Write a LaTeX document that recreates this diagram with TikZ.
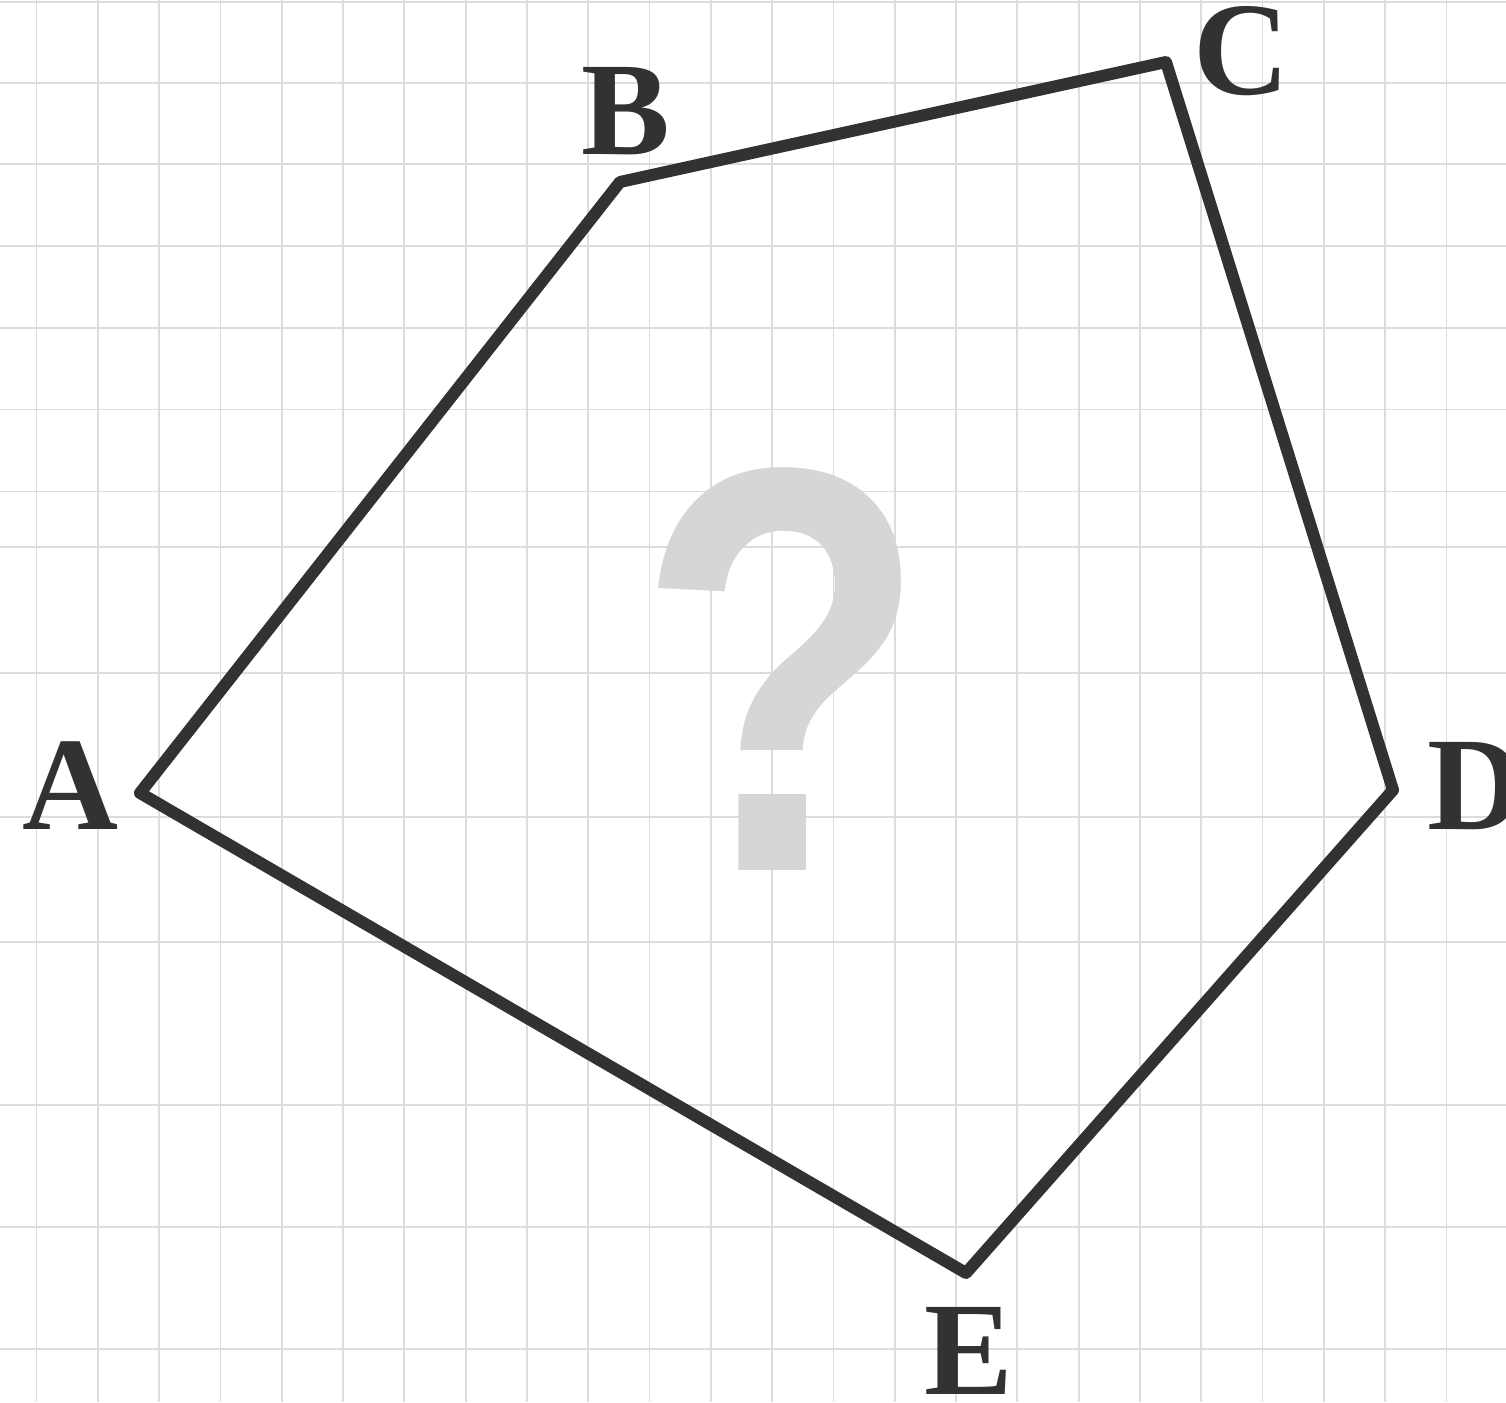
\documentclass[tikz,border=0pt]{standalone}
\usepackage{fontspec}
\setmainfont{Liberation Serif}
\setsansfont{Liberation Sans}
\usetikzlibrary{positioning}
\definecolor{GridGray}{RGB}{220,220,220}
\definecolor{EdgeDark}{RGB}{50,50,50}
\definecolor{MarkGray}{RGB}{214,214,214}

\begin{document}
\begin{tikzpicture}[x=1pt,y=-1pt,
	gridline/.style={draw=GridGray,line width=1.8pt},
	edge/.style={draw=EdgeDark,line width=12pt,line join=round},
	vlabel/.style={text=EdgeDark,inner sep=0pt,font=\fontsize{133}{133}\selectfont\bfseries}]
\useasboundingbox (0,0) rectangle (1506,1402);
\fill[white] (0,0) rectangle (1506,1402);
\foreach \k in {0,...,23}\draw[gridline] ({36.5+61.3*\k},0)--({36.5+61.3*\k},1402);
\foreach \y in {2,82.7,164.3,246,328,409.5,491.5,546.7,672.7,816.7,942,1105,1226.7,1349}\draw[gridline] (0,\y)--(1506,\y);
\node[text=MarkGray,inner sep=0pt,xscale=0.83,font=\sffamily\bfseries\fontsize{577}{577}\selectfont] (qmark) at (783,669){?};
\coordinate (A) at (140,793);
\coordinate (B) at (620,182);
\coordinate (C) at (1166,62);
\coordinate (D) at (1393,790);
\coordinate (E) at (966,1273);
\draw[edge] (A)--(B)--(C)--(D)--(E)--cycle;
\node[vlabel] (lA) at (70.5,786){A};
\node[vlabel] (lB) at (626,111){B};
\node[vlabel] (lC) at (1241.5,51){C};
\node[vlabel] (lD) at (1476,786){D};
\node[vlabel] (lE) at (969,1351){E};
\end{tikzpicture}
\end{document}
